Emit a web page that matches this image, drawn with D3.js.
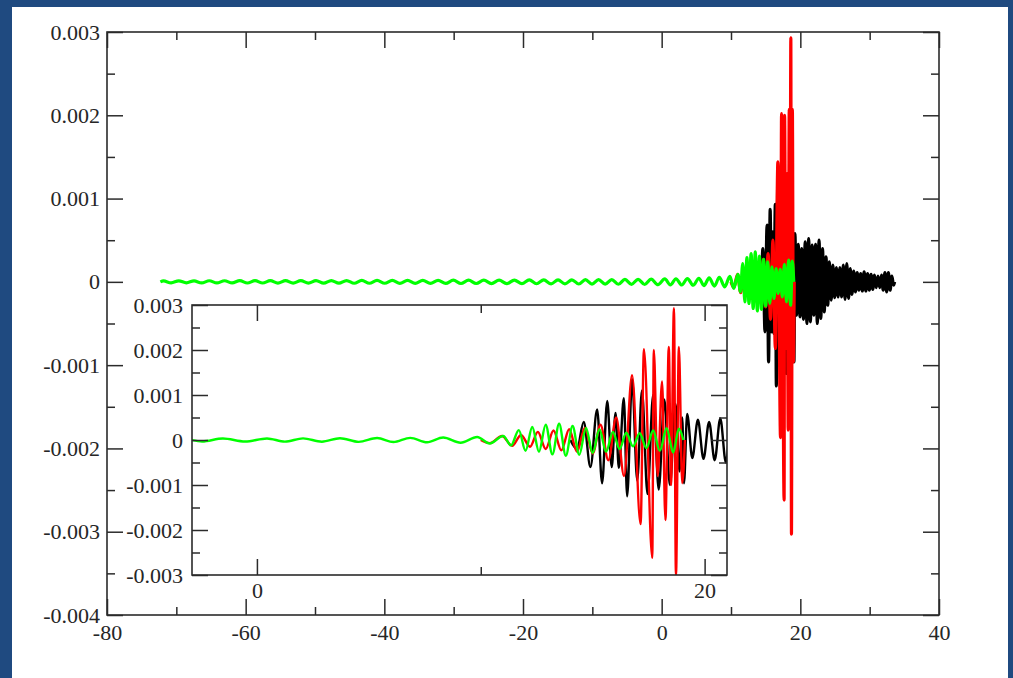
<!DOCTYPE html>
<html>
<head>
<meta charset="utf-8">
<script src="https://cdn.jsdelivr.net/npm/d3@7"></script>
<style>
  html, body { margin: 0; padding: 0; background: #1f4a80; }
  svg { display: block; }
</style>
</head>
<body>
<svg id="chart" width="1013" height="678"></svg>
<script>
// ---- tick values ----
const mainXTicks = [-80, -60, -40, -20, 0, 20, 40];
const mainXMinor = [-70, -50, -30, -10, 10, 30];
const mainYTicks = [-0.004, -0.003, -0.002, -0.001, 0, 0.001, 0.002, 0.003];
const mainYMinor = [-0.0035, -0.0025, -0.0015, -0.0005, 0.0005, 0.0015, 0.0025];
const insetXTicks = [0, 20];
const insetXMinor = [10];
const insetYTicks = [-0.003, -0.002, -0.001, 0, 0.001, 0.002, 0.003];
const insetYMinor = [-0.0025, -0.0015, -0.0005, 0.0005, 0.0015, 0.0025];

// ---- waveforms: [t, amplitude] at successive extrema ----
const blackWave = [
  [14.0, 0], [14.3, -0.0002], [14.6, 0.0004], [14.9, -0.0006], [15.2, 0.00068], [15.42, -0.00096],
  [15.65, 0.00087], [15.85, -0.0006], [16.02, 0.0006], [16.17, -0.00062], [16.39, 0.00093],
  [16.54, -0.00125], [16.76, 0.00135], [16.99, -0.0009], [17.2, 0.0011], [17.45, -0.0012],
  [17.7, 0.001], [17.95, -0.0011], [18.2, 0.0009], [18.45, -0.001], [18.7, 0.0008],
  [18.88, -0.0007], [19.0, 0.0005], [19.08, -0.00096], [19.22, 0.00058], [19.45, -0.0004],
  [19.7, 0.00045], [19.95, -0.00042], [20.2, 0.0004], [20.45, -0.00045], [20.7, 0.00048],
  [20.95, -0.0005], [21.2, 0.00052], [21.45, -0.00048], [21.7, 0.00044], [21.95, -0.0004],
  [22.2, 0.00045], [22.45, -0.0005], [22.7, 0.0005], [22.95, -0.00044], [23.2, 0.0004],
  [23.45, -0.00036], [23.7, 0.0003], [23.95, -0.00028], [24.2, 0.00024], [24.45, -0.00022],
  [24.7, 0.0002], [24.95, -0.00019], [25.2, 0.00017], [25.45, -0.00018], [25.7, 0.00017],
  [25.95, -0.00018], [26.2, 0.0002], [26.45, -0.00021], [26.7, 0.00022], [26.95, -0.0002],
  [27.2, 0.00016], [27.45, -0.00015], [27.7, 0.00013], [27.95, -0.00012], [28.2, 0.00011],
  [28.45, -0.0001], [28.7, 0.0001], [28.95, -0.00011], [29.2, 0.00012], [29.45, -0.00011],
  [29.7, 0.0001], [29.95, -0.0001], [30.2, 0.00009], [30.45, -0.00009], [30.7, 0.00008],
  [30.95, -0.00007], [31.2, 0.00007], [31.45, -0.00007], [31.7, 0.00008], [31.95, -0.0001],
  [32.2, 0.00011], [32.45, -0.00012], [32.7, 0.00011], [32.95, -0.0001], [33.2, 0.00007],
  [33.45, -0.00004], [33.6, 0]
];

const redWave = [
  [10.0, 0], [10.4, -0.00007], [10.95, 0.00009], [11.4, -0.00013], [11.8, 0.00011],
  [12.2, -0.00015], [12.55, 0.00018], [12.9, -0.0002], [13.25, 0.00021], [13.6, -0.00023],
  [13.95, 0.00024], [14.3, -0.00026], [14.65, 0.00027], [15.0, -0.0003], [15.35, 0.00034],
  [15.7, -0.00045], [16.05, 0.0005], [16.4, -0.0008], [16.76, 0.00144], [17.14, -0.00187],
  [17.29, 0.00202], [17.66, -0.00262], [17.73, 0.002], [17.9, -0.0008], [18.1, 0.0013],
  [18.25, -0.00178], [18.4, 0.00207], [18.5, -0.001], [18.63, 0.00293], [18.72, -0.00303],
  [18.85, 0.00207], [19.0, -0.00096], [19.12, 0]
];

const greenWave = [
  [-72.3, 0],
  [-71.85, 0.000011], [-70.75, -0.000012], [-69.65, 0.000012], [-68.55, -0.000012], [-67.45, 0.000012],
  [-66.35, -0.000013], [-65.25, 0.000013], [-64.15, -0.000013], [-63.05, 0.000013], [-61.95, -0.000013],
  [-60.85, 0.000014], [-59.75, -0.000014], [-58.65, 0.000014], [-57.55, -0.000014], [-56.45, 0.000014],
  [-55.35, -0.000015], [-54.25, 0.000015], [-53.15, -0.000015], [-52.05, 0.000015], [-50.95, -0.000015],
  [-49.85, 0.000016], [-48.75, -0.000016], [-47.65, 0.000016], [-46.55, -0.000016], [-45.45, 0.000016],
  [-44.35, -0.000017], [-43.25, 0.000017], [-42.15, -0.000017], [-41.05, 0.000017], [-39.95, -0.000017],
  [-38.85, 0.000018], [-37.75, -0.000018], [-36.65, 0.000018], [-35.55, -0.000018], [-34.45, 0.000019],
  [-33.35, -0.000019], [-32.25, 0.000019], [-31.15, -0.000019], [-30.05, 0.00002], [-28.95, -0.00002],
  [-27.85, 0.00002], [-26.75, -0.00002], [-25.65, 0.000021], [-24.55, -0.000021], [-23.45, 0.000021],
  [-22.35, -0.000022], [-21.25, 0.000022], [-20.15, -0.000022], [-19.1, 0.000023], [-18.05, -0.000023],
  [-17.0, 0.000023], [-15.95, -0.000024], [-14.95, 0.000024], [-13.95, -0.000025], [-12.95, 0.000025],
  [-11.95, -0.000026], [-11.0, 0.000026], [-10.05, -0.000027], [-9.1, 0.000027], [-8.15, -0.000028],
  [-7.2, 0.000028], [-6.25, -0.000029], [-5.3, 0.00003], [-4.35, -0.00003], [-3.4, 0.000031],
  [-2.45, -0.000032], [-1.52, 0.000033], [-0.53, -0.000034], [0.45, 0.000035], [1.25, -0.000036],
  [2.06, 0.000037], [2.9, -0.000038], [3.71, 0.00004], [4.55, -0.000041], [5.37, 0.000043],
  [6.1, -0.000045], [6.85, 0.000048], [7.6, -0.000051], [8.32, 0.000055], [9.1, -0.00006],
  [9.84, 0.000067], [10.4, -0.000078], [11.0, 0.00009], [11.35, -0.00012], [11.7, 0.00022],
  [12.0, -0.00024], [12.3, 0.00029], [12.6, -0.00026], [12.9, 0.00034], [13.2, -0.00032],
  [13.5, 0.00036], [13.8, -0.00035], [14.1, 0.00031], [14.4, -0.00033], [14.7, 0.00027],
  [15.0, -0.00029], [15.3, 0.00024], [15.6, -0.00026], [15.9, 0.00018], [16.2, -0.0002],
  [16.5, 0.00016], [16.8, -0.00014], [17.1, 0.00015], [17.4, -0.00018], [17.7, 0.00021],
  [18.0, -0.00024], [18.3, 0.00026], [18.6, -0.00028], [18.85, 0.00025], [19.05, 0]
];

const seriesList = [
  { data: blackWave, color: "#000000" },
  { data: redWave,   color: "#ff0000" },
  { data: greenWave, color: "#00ff00" }
];

const svg = d3.select("#chart");
const FONT = "'Liberation Serif', 'Times New Roman', serif";
const AXIS_COLOR = "#2b2b2b";

// white page panel
svg.append("rect").attr("x", 12).attr("y", 7).attr("width", 996).attr("height", 680).attr("fill", "#ffffff");

function fmtY(v) { return v === 0 ? "0" : String(+v.toFixed(4)); }
function fmtX(v) { return String(v); }

function drawPlot(opts) {
  const { x, y, xt, xm, yt, ym, xfmt, yfmt, xPad, yPad, lineWidth, id, fillBg } = opts;
  const [x0, x1] = x.range();
  const [y0, y1] = y.range();
  const g = svg.append("g");

  if (fillBg) {
    g.append("rect").attr("x", x0).attr("y", y1).attr("width", x1 - x0).attr("height", y0 - y1).attr("fill", "#ffffff");
  }

  g.append("clipPath").attr("id", id)
    .append("rect").attr("x", x0).attr("y", y1).attr("width", x1 - x0).attr("height", y0 - y1);

  const line = d3.line().x(d => x(d[0])).y(d => y(d[1])).curve(d3.curveMonotoneX);
  const lines = g.append("g").attr("clip-path", `url(#${id})`);
  seriesList.forEach(s => {
    lines.append("path")
      .datum(s.data)
      .attr("d", line)
      .attr("fill", "none")
      .attr("stroke", s.color)
      .attr("stroke-width", lineWidth)
      .attr("stroke-linejoin", "round");
  });

  const MAJ = 16, MIN = 8;
  const axes = [
    { gen: d3.axisBottom(x).tickValues(xt).tickSizeInner(-MAJ).tickPadding(xPad).tickFormat(xfmt), t: `translate(0,${y0})`, labels: true },
    { gen: d3.axisBottom(x).tickValues(xm).tickSizeInner(-MIN).tickFormat(""), t: `translate(0,${y0})` },
    { gen: d3.axisTop(x).tickValues(xt).tickSizeInner(-MAJ).tickFormat(""), t: `translate(0,${y1})` },
    { gen: d3.axisTop(x).tickValues(xm).tickSizeInner(-MIN).tickFormat(""), t: `translate(0,${y1})` },
    { gen: d3.axisLeft(y).tickValues(yt).tickSizeInner(-MAJ).tickPadding(yPad).tickFormat(yfmt), t: `translate(${x0},0)`, labels: true },
    { gen: d3.axisLeft(y).tickValues(ym).tickSizeInner(-MIN).tickFormat(""), t: `translate(${x0},0)` },
    { gen: d3.axisRight(y).tickValues(yt).tickSizeInner(-MAJ).tickFormat(""), t: `translate(${x1},0)` },
    { gen: d3.axisRight(y).tickValues(ym).tickSizeInner(-MIN).tickFormat(""), t: `translate(${x1},0)` }
  ];
  axes.forEach(a => {
    const ag = g.append("g").attr("transform", a.t).call(a.gen.tickSizeOuter(0));
    ag.select(".domain").remove();
    ag.selectAll(".tick line").attr("stroke", AXIS_COLOR).attr("stroke-width", 1.5);
    ag.selectAll(".tick text")
      .attr("fill", "#262626")
      .attr("font-family", FONT)
      .attr("font-size", 22);
    if (!a.labels) ag.selectAll(".tick text").remove();
  });

  g.append("rect")
    .attr("x", x0).attr("y", y1).attr("width", x1 - x0).attr("height", y0 - y1)
    .attr("fill", "none").attr("stroke", AXIS_COLOR).attr("stroke-width", 1.6);
}

// main plot
drawPlot({
  id: "clip-main",
  x: d3.scaleLinear().domain([-80, 40]).range([107, 939]),
  y: d3.scaleLinear().domain([-0.004, 0.003]).range([615, 32]),
  xt: mainXTicks, xm: mainXMinor, yt: mainYTicks, ym: mainYMinor,
  xfmt: fmtX, yfmt: fmtY, xPad: 9, yPad: 7, lineWidth: 3.2, fillBg: false
});

// inset plot
drawPlot({
  id: "clip-inset",
  x: d3.scaleLinear().domain([-2.9, 21.0]).range([192, 727]),
  y: d3.scaleLinear().domain([-0.003, 0.003]).range([575, 305]),
  xt: insetXTicks, xm: insetXMinor, yt: insetYTicks, ym: insetYMinor,
  xfmt: fmtX, yfmt: fmtY, xPad: 7, yPad: 9, lineWidth: 2.4, fillBg: true
});
</script>
</body>
</html>
